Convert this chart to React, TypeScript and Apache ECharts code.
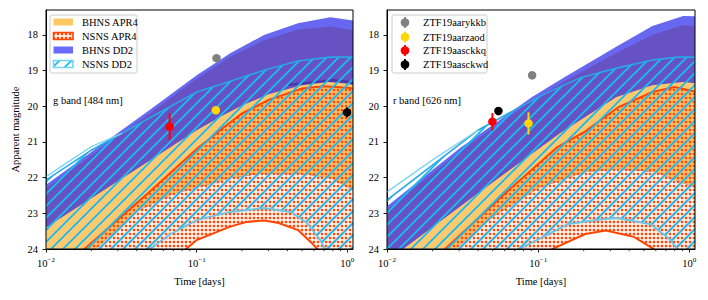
import React, { useEffect, useRef } from "react";
import * as echarts from "echarts";

// ---------- labels ----------
const BAND_NAMES = ["BHNS APR4", "NSNS APR4", "BHNS DD2", "NSNS DD2"];
const OBJ_NAMES = ["ZTF19aarykkb", "ZTF19aarzaod", "ZTF19aasckkq", "ZTF19aasckwd"];
const OBJ_COLORS = ["#808080", "#FFD700", "#FF0000", "#000000"];
const PANEL_LABELS = ["g band [484 nm]", "r band [626 nm]"];
const X_MAJOR = [0.01, 0.1, 1];
const X_MINOR = [0.02, 0.03, 0.04, 0.05, 0.06, 0.07, 0.08, 0.09, 0.2, 0.3, 0.4, 0.5, 0.6, 0.7, 0.8, 0.9];
const Y_TICKS = [18, 19, 20, 21, 22, 23, 24];

// ---------- g band ----------
const gPurpleT = [0.009, 0.01, 0.02, 0.0324, 0.05, 0.1, 0.167, 0.28, 0.47, 0.77, 1.2];
const gPurpleTop = [22.35, 22.2, 21.28, 20.64, 20.07, 19.13, 18.51, 18.0, 17.67, 17.5, 17.62];
const gPurpleInner = [22.45, 22.3, 21.38, 20.74, 20.17, 19.23, 18.62, 18.15, 17.85, 17.76, 17.9];
const gOrangeTopT = [0.009, 0.01, 0.02, 0.04, 0.074, 0.1, 0.15, 0.2, 0.3, 0.5, 0.75, 1.0, 1.2];
const gOrangeTop = [23.52, 23.4, 22.58, 21.76, 21.03, 20.67, 20.25, 19.98, 19.66, 19.41, 19.32, 19.37, 19.45];
const gOrangeBotT = [0.009, 0.02, 0.04, 0.07, 0.1, 0.17, 0.28, 0.47, 0.77, 1.2];
const gOrangeBot = [26.5, 24.1, 22.95, 22.45, 22.28, 22.0, 21.88, 21.88, 22.0, 22.45];
const gRedTopT = [0.009, 0.018, 0.05, 0.1, 0.15, 0.2, 0.3, 0.5, 0.7, 1.0, 1.2];
const gRedTop = [25.3, 24.0, 22.35, 21.2, 20.6, 20.2, 19.82, 19.5, 19.44, 19.48, 19.52];
const gRedBotT = [0.009, 0.05, 0.085, 0.1, 0.165, 0.215, 0.28, 0.35, 0.47, 0.58, 0.63, 0.8, 1.2];
const gRedBot = [28, 25.2, 24.0, 23.75, 23.38, 23.24, 23.2, 23.27, 23.47, 23.83, 24.0, 24.6, 26];
const gCyanTopT = [0.009, 0.01, 0.02, 0.05, 0.1, 0.167, 0.28, 0.47, 0.77, 1.2];
const gCyanTop = [22.2, 22.07, 21.23, 20.3, 19.6, 19.3, 18.99, 18.73, 18.62, 18.62];
const gCyanTop2T = [0.009, 0.01, 0.02, 0.032];
const gCyanTop2 = [22.1, 21.97, 21.13, 20.76];
const gCyanBotT = [0.009, 0.03, 0.049, 0.066, 0.1, 0.167, 0.28, 0.42, 0.54, 0.66, 0.71, 0.9, 1.2];
const gCyanBot = [27, 25, 24.0, 23.6, 23.19, 22.96, 22.85, 22.96, 23.27, 23.75, 24.0, 24.6, 25.5];
const gDarkStripT = [0.4, 0.6, 0.8, 1.0, 1.2];
const gDarkStrip = [19.4, 19.33, 19.27, 19.31, 19.39];
const G_OBJ_T = [0.1355, 0.134, 0.0662, 0.995];
const G_OBJ_MAG = [18.65, 20.11, 20.57, 20.17];
const G_OBJ_ERR = [0, 0, 0.37, 0.14];

// ---------- r band ----------
const rPurpleT = [0.009, 0.01, 0.0304, 0.0911, 0.15, 0.257, 0.33, 0.57, 0.91, 1.2];
const rPurpleTop = [22.95, 22.8, 21.17, 19.74, 19.18, 18.6, 18.32, 17.75, 17.47, 17.48];
const rPurpleInner = [23.05, 22.9, 21.27, 19.84, 19.3, 18.75, 18.5, 18.0, 17.72, 17.76];
const rOrangeTopT = [0.009, 0.0128, 0.041, 0.14, 0.2, 0.26, 0.33, 0.57, 0.91, 1.2];
const rOrangeTop = [24.5, 24.0, 22.4, 20.75, 20.33, 20.02, 19.74, 19.41, 19.32, 19.37];
const rOrangeBotT = [0.009, 0.025, 0.05, 0.1, 0.2, 0.35, 0.6, 1.2];
const rOrangeBot = [26.5, 24.2, 23.1, 22.3, 21.85, 21.75, 21.85, 22.35];
const rRedTopT = [0.009, 0.0242, 0.06, 0.134, 0.205, 0.34, 0.57, 0.8, 1.2];
const rRedTop = [25.6, 24.0, 22.45, 21.14, 20.7, 20.02, 19.6, 19.46, 19.62];
const rRedBotT = [0.009, 0.07, 0.124, 0.205, 0.28, 0.43, 0.58, 0.8, 1.2];
const rRedBot = [28, 25.2, 24.0, 23.58, 23.48, 23.66, 24.0, 24.8, 26];
const rCyanTopT = [0.009, 0.01, 0.02, 0.04, 0.07, 0.113, 0.19, 0.33, 0.57, 0.84, 1.2];
const rCyanTop = [22.78, 22.63, 21.65, 20.67, 20.1, 19.63, 19.2, 18.93, 18.7, 18.62, 18.62];
const rCyanTop2T = [0.009, 0.01, 0.02, 0.04];
const rCyanTop2 = [22.55, 22.4, 21.5, 20.67];
const rCyanBotT = [0.009, 0.04, 0.075, 0.158, 0.257, 0.33, 0.55, 0.73, 0.84, 1.0, 1.2];
const rCyanBot = [27, 25.2, 24.0, 23.3, 23.17, 23.13, 23.3, 23.7, 24.0, 24.6, 25.5];
const R_OBJ_T = [0.0912, 0.0863, 0.0498, 0.0546];
const R_OBJ_MAG = [19.13, 20.48, 20.43, 20.13];
const R_OBJ_ERR = [0, 0.31, 0.24, 0];

const FONT = "'Liberation Serif', 'Times New Roman', serif";
const FS = 10.5;
const X_MIN = 0.01;
const X_MAX = 1.09;
const Y_MIN = 17.3;
const Y_MAX = 24;

const svgUrl = (s: string) => "data:image/svg+xml;charset=utf-8," + encodeURIComponent(s);
const HATCH = {
  image: svgUrl(
    '<svg xmlns="http://www.w3.org/2000/svg" width="12" height="12"><g stroke="#17bcf2" stroke-width="1.9"><line x1="-3" y1="3" x2="3" y2="-3"/><line x1="0" y1="12" x2="12" y2="0"/><line x1="9" y1="15" x2="15" y2="9"/></g></svg>'
  ),
  repeat: "repeat",
  imageWidth: 12,
  imageHeight: 12,
};
const DOTS = {
  image: svgUrl(
    '<svg xmlns="http://www.w3.org/2000/svg" width="4" height="4"><rect x="0.75" y="0.75" width="2.5" height="2.5" fill="#ff4a0a"/></svg>'
  ),
  repeat: "repeat",
  imageWidth: 4,
  imageHeight: 4,
};

function clipOf(params: any) {
  const cs = params.coordSys;
  return { type: "rect", shape: { x: cs.x, y: cs.y, width: cs.width, height: cs.height } };
}

function band(grid: number, topT: number[], topM: number[], botT: number[], botM: number[], style: any, z: number) {
  return {
    type: "custom",
    xAxisIndex: grid,
    yAxisIndex: grid,
    z,
    silent: true,
    clip: true,
    data: topT.map((t, i) => [t, topM[i]]),
    renderItem: (params: any, api: any) => {
      if (params.dataIndex !== 0) return null;
      const pts: number[][] = [];
      topT.forEach((t, i) => pts.push(api.coord([t, topM[i]])));
      for (let i = botT.length - 1; i >= 0; i--) pts.push(api.coord([botT[i], botM[i]]));
      return {
        type: "group",
        clipPath: clipOf(params),
        children: [{ type: "polygon", shape: { points: pts }, style }],
      };
    },
  };
}

function curve(grid: number, tArr: number[], mArr: number[], style: any, z: number) {
  return {
    type: "custom",
    xAxisIndex: grid,
    yAxisIndex: grid,
    z,
    silent: true,
    clip: true,
    data: tArr.map((t, i) => [t, mArr[i]]),
    renderItem: (params: any, api: any) => {
      if (params.dataIndex !== 0) return null;
      const pts = tArr.map((t, i) => api.coord([t, mArr[i]]));
      return {
        type: "group",
        clipPath: clipOf(params),
        children: [{ type: "polyline", shape: { points: pts }, style: { fill: null, ...style } }],
      };
    },
  };
}

function panelSeries(grid: number, d: any) {
  const list: any[] = [];
  list.push(band(grid, d.purpleT, d.purpleTop, d.orangeBotT, d.orangeBot, { fill: "#6767f0" }, 1));
  list.push(band(grid, d.purpleT, d.purpleInner, d.orangeBotT, d.orangeBot, { fill: "#6652c3" }, 2));
  if (d.darkT) list.push(curve(grid, d.darkT, d.dark, { stroke: "#4b36a6", lineWidth: 2.4 }, 3));
  list.push(band(grid, d.orangeTopT, d.orangeTop, d.orangeBotT, d.orangeBot, { fill: "#fdc96e" }, 4));
  list.push(
    band(grid, d.redTopT, d.redTop, d.redBotT, d.redBot, { fill: DOTS, stroke: "#ff4500", lineWidth: 2 }, 5)
  );
  list.push(band(grid, d.cyanTopT, d.cyanTop, d.cyanBotT, d.cyanBot, { fill: HATCH }, 6));
  list.push(curve(grid, d.cyanTopT, d.cyanTop, { stroke: "#2aa6e6", lineWidth: 1.6 }, 7));
  list.push(curve(grid, d.cyanTop2T, d.cyanTop2, { stroke: "#7fd4f2", lineWidth: 1.4 }, 7));
  list.push(curve(grid, d.cyanBotT, d.cyanBot, { stroke: "#72c2e2", lineWidth: 2 }, 7));
  // error bars
  list.push({
    type: "custom",
    xAxisIndex: grid,
    yAxisIndex: grid,
    z: 9,
    silent: true,
    data: d.objT.map((t: number, i: number) => [t, d.objMag[i], d.objErr[i], i]),
    renderItem: (params: any, api: any) => {
      const t = api.value(0), m = api.value(1), e = api.value(2), i = api.value(3);
      if (!(e > 0)) return null;
      const p1 = api.coord([t, m - e]);
      const p2 = api.coord([t, m + e]);
      return {
        type: "line",
        shape: { x1: p1[0], y1: p1[1], x2: p2[0], y2: p2[1] },
        style: { stroke: OBJ_COLORS[i], lineWidth: 2 },
      };
    },
  });
  list.push({
    type: "scatter",
    xAxisIndex: grid,
    yAxisIndex: grid,
    z: 10,
    silent: true,
    symbol: "circle",
    symbolSize: 8.5,
    data: d.objT.map((t: number, i: number) => ({
      value: [t, d.objMag[i]],
      itemStyle: { color: OBJ_COLORS[i], opacity: 1 },
    })),
  });
  // minor ticks
  list.push({
    type: "custom",
    xAxisIndex: grid,
    yAxisIndex: grid,
    z: 11,
    silent: true,
    data: X_MINOR.map((t) => [t, Y_MAX]),
    renderItem: (params: any, api: any) => {
      const p = api.coord([api.value(0), Y_MAX]);
      return {
        type: "line",
        shape: { x1: p[0], y1: p[1], x2: p[0], y2: p[1] + 2.2 },
        style: { stroke: "#000", lineWidth: 0.8 },
      };
    },
  });
  return list;
}

function xLabel(v: number) {
  const e = Math.round(Math.log10(v));
  const s = String(e).replace("-", "\u2212");
  return "{b|10}{s|" + s + "}";
}

function xAxis(grid: number) {
  return {
    type: "log",
    logBase: 10,
    gridIndex: grid,
    min: X_MIN,
    max: X_MAX,
    axisLine: { show: true, onZero: false, lineStyle: { color: "#000", width: 1 } },
    axisTick: { show: true, inside: false, length: 3.5, customValues: X_MAJOR, lineStyle: { color: "#000", width: 0.9 } },
    minorTick: { show: false },
    splitLine: { show: false },
    axisLabel: {
      customValues: X_MAJOR,
      formatter: xLabel,
      margin: 7,
      color: "#000",
      fontFamily: FONT,
      rich: {
        b: { fontSize: FS, fontFamily: FONT, color: "#000" },
        s: { fontSize: 7, fontFamily: FONT, color: "#000", padding: [0, 0, 8, 0] },
      },
    },
    name: "Time [days]",
    nameLocation: "middle",
    nameGap: 27,
    nameTextStyle: { fontSize: FS, fontFamily: FONT, color: "#000" },
  };
}

function yAxis(grid: number) {
  return {
    type: "value",
    gridIndex: grid,
    inverse: true,
    min: Y_MIN,
    max: Y_MAX,
    axisLine: { show: true, onZero: false, lineStyle: { color: "#000", width: 1 } },
    axisTick: { show: true, inside: false, length: 3.5, customValues: Y_TICKS, lineStyle: { color: "#000", width: 0.9 } },
    splitLine: { show: false },
    axisLabel: { customValues: Y_TICKS, margin: 8, fontSize: FS, fontFamily: FONT, color: "#000" },
    name: grid === 0 ? "Apparent magnitude" : "",
    nameLocation: "middle",
    nameGap: 25,
    nameRotate: 90,
    nameTextStyle: { fontSize: FS, fontFamily: FONT, color: "#000" },
  };
}

function txt(x: number, y: number, text: string) {
  return {
    type: "text",
    x,
    y,
    style: { text, fontSize: FS, fontFamily: FONT, fill: "#000", verticalAlign: "middle", align: "left" },
    z: 101,
  };
}

function legendGraphics() {
  const els: any[] = [];
  els.push({
    type: "rect",
    shape: { x: 50, y: 15, width: 87, height: 58, r: 2 },
    style: { fill: "rgba(255,255,255,0.85)", stroke: "#cccccc", lineWidth: 1 },
    z: 100,
  });
  const ys = [22, 36, 50, 64];
  const patchStyles = [
    { fill: "#fec865" },
    { fill: DOTS, stroke: "#ff4500", lineWidth: 1.6 },
    { fill: "#6a6aff" },
    { fill: HATCH, stroke: "#74d4f6", lineWidth: 1.6 },
  ];
  BAND_NAMES.forEach((n, i) => {
    els.push({
      type: "rect",
      shape: { x: 53.5, y: ys[i] - 3.5, width: 19.5, height: 7 },
      style: patchStyles[i],
      z: 101,
    });
    els.push(txt(82, ys[i], n));
  });
  els.push({
    type: "rect",
    shape: { x: 392, y: 15, width: 95, height: 58, r: 2 },
    style: { fill: "rgba(255,255,255,0.85)", stroke: "#cccccc", lineWidth: 1 },
    z: 100,
  });
  const ys2 = [22.5, 37, 50.5, 64.5];
  OBJ_NAMES.forEach((n, i) => {
    els.push({
      type: "line",
      shape: { x1: 405, y1: ys2[i] - 5.5, x2: 405, y2: ys2[i] + 5.5 },
      style: { stroke: OBJ_COLORS[i], lineWidth: 1.8 },
      z: 101,
    });
    els.push({
      type: "circle",
      shape: { cx: 405, cy: ys2[i], r: 4.3 },
      style: { fill: OBJ_COLORS[i] },
      z: 102,
    });
    els.push(txt(423, ys2[i], n));
  });
  els.push(txt(53, 100, PANEL_LABELS[0]));
  els.push(txt(393, 100, PANEL_LABELS[1]));
  return els;
}

export default function App() {
  const ref = useRef<HTMLDivElement>(null);
  useEffect(() => {
    if (!ref.current) return;
    const chart = echarts.init(ref.current, null, { renderer: "svg" });
    const g = {
      purpleT: gPurpleT, purpleTop: gPurpleTop, purpleInner: gPurpleInner,
      orangeTopT: gOrangeTopT, orangeTop: gOrangeTop, orangeBotT: gOrangeBotT, orangeBot: gOrangeBot,
      redTopT: gRedTopT, redTop: gRedTop, redBotT: gRedBotT, redBot: gRedBot,
      cyanTopT: gCyanTopT, cyanTop: gCyanTop, cyanTop2T: gCyanTop2T, cyanTop2: gCyanTop2,
      cyanBotT: gCyanBotT, cyanBot: gCyanBot, darkT: gDarkStripT, dark: gDarkStrip,
      objT: G_OBJ_T, objMag: G_OBJ_MAG, objErr: G_OBJ_ERR,
    };
    const r = {
      purpleT: rPurpleT, purpleTop: rPurpleTop, purpleInner: rPurpleInner,
      orangeTopT: rOrangeTopT, orangeTop: rOrangeTop, orangeBotT: rOrangeBotT, orangeBot: rOrangeBot,
      redTopT: rRedTopT, redTop: rRedTop, redBotT: rRedBotT, redBot: rRedBot,
      cyanTopT: rCyanTopT, cyanTop: rCyanTop, cyanTop2T: rCyanTop2T, cyanTop2: rCyanTop2,
      cyanBotT: rCyanBotT, cyanBot: rCyanBot,
      objT: R_OBJ_T, objMag: R_OBJ_MAG, objErr: R_OBJ_ERR,
    };
    chart.setOption({
      animation: false,
      backgroundColor: "#fff",
      textStyle: { fontFamily: FONT },
      grid: [
        { left: 46, top: 10, width: 307, height: 239, show: true, borderColor: "#000", borderWidth: 1, backgroundColor: "transparent", z: 20 },
        { left: 387, top: 10, width: 308, height: 239, show: true, borderColor: "#000", borderWidth: 1, backgroundColor: "transparent", z: 20 },
      ],
      xAxis: [xAxis(0), xAxis(1)],
      yAxis: [yAxis(0), yAxis(1)],
      series: [...panelSeries(0, g), ...panelSeries(1, r)],
      graphic: legendGraphics(),
    });
    return () => chart.dispose();
  }, []);
  return <div ref={ref} style={{ position: "fixed", left: 0, top: 0, width: 708, height: 300 }} />;
}
